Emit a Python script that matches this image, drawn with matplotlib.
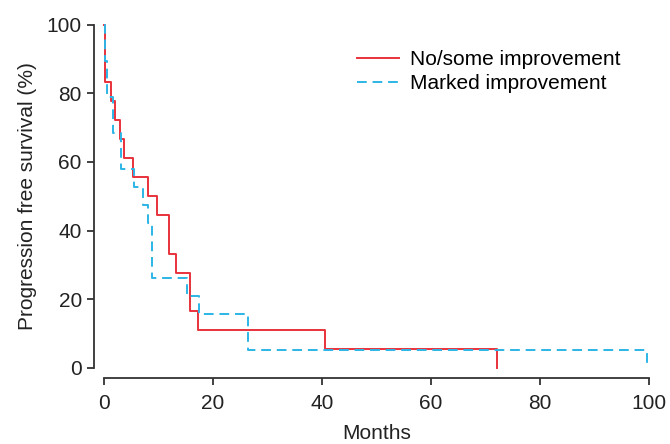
import matplotlib
matplotlib.use("Agg")
import matplotlib.pyplot as plt

# Kaplan-Meier step data (months, survival %)
red_t = [0, 0.2, 1.2, 2.0, 3.0, 3.7, 5.3, 8.1, 9.8, 11.9, 13.3, 15.7, 17.2, 40.6, 72.2]
red_s = [100, 83.3, 77.8, 72.2, 66.7, 61.1, 55.6, 50.0, 44.4, 33.3, 27.8, 16.7, 11.1, 5.6, 0]

blue_t = [0, 0.2, 0.5, 1.7, 3.05, 5.5, 7.2, 8.0, 8.8, 15.3, 17.5, 26.4, 99.6]
blue_s = [100, 89.5, 78.9, 68.4, 57.9, 52.6, 47.4, 42.1, 26.3, 21.1, 15.8, 5.3, 0]

labels = ["No/some improvement", "Marked improvement"]
xticks = [0, 20, 40, 60, 80, 100]
yticks = [0, 20, 40, 60, 80, 100]

plt.rcParams['font.family'] = ['Liberation Sans', 'DejaVu Sans']
fig = plt.figure(figsize=(6.7, 4.44), dpi=100)
ax = fig.add_axes([0.1552, 0.1712, 0.8134, 0.7736])

ax.step(red_t, red_s, where='post', color='#e8323c', lw=1.4, label=labels[0], clip_on=False)
ax.step(blue_t, blue_s, where='post', color='#2bb5e6', lw=1.4, ls=(0, (5, 3)), label=labels[1], clip_on=False)

ax.set_xlim(0, 100)
ax.set_ylim(0, 100)
ax.set_xticks(xticks)
ax.set_yticks(yticks)
for s in ['top', 'right']:
    ax.spines[s].set_visible(False)
for s in ['left', 'bottom']:
    ax.spines[s].set_position(('outward', 7))
    ax.spines[s].set_color('#333333')
    ax.spines[s].set_linewidth(1.3)
ax.tick_params(direction='out', length=5, width=1.3, color='#333333', labelsize=15, labelcolor='#222222')
ax.tick_params(axis='x', pad=7)
ax.tick_params(axis='y', pad=4)
ax.set_xlabel('Months', fontsize=15, color='#222222', labelpad=8)
ax.set_ylabel('Progression free survival (%)', fontsize=15, color='#222222', labelpad=7)

ax.legend(loc='upper left', bbox_to_anchor=(0.464, 0.925), frameon=False, fontsize=15,
          handlelength=2.0, handletextpad=0.55, borderpad=0, borderaxespad=0, labelspacing=0.22)

fig.savefig('out.png', dpi=100)
